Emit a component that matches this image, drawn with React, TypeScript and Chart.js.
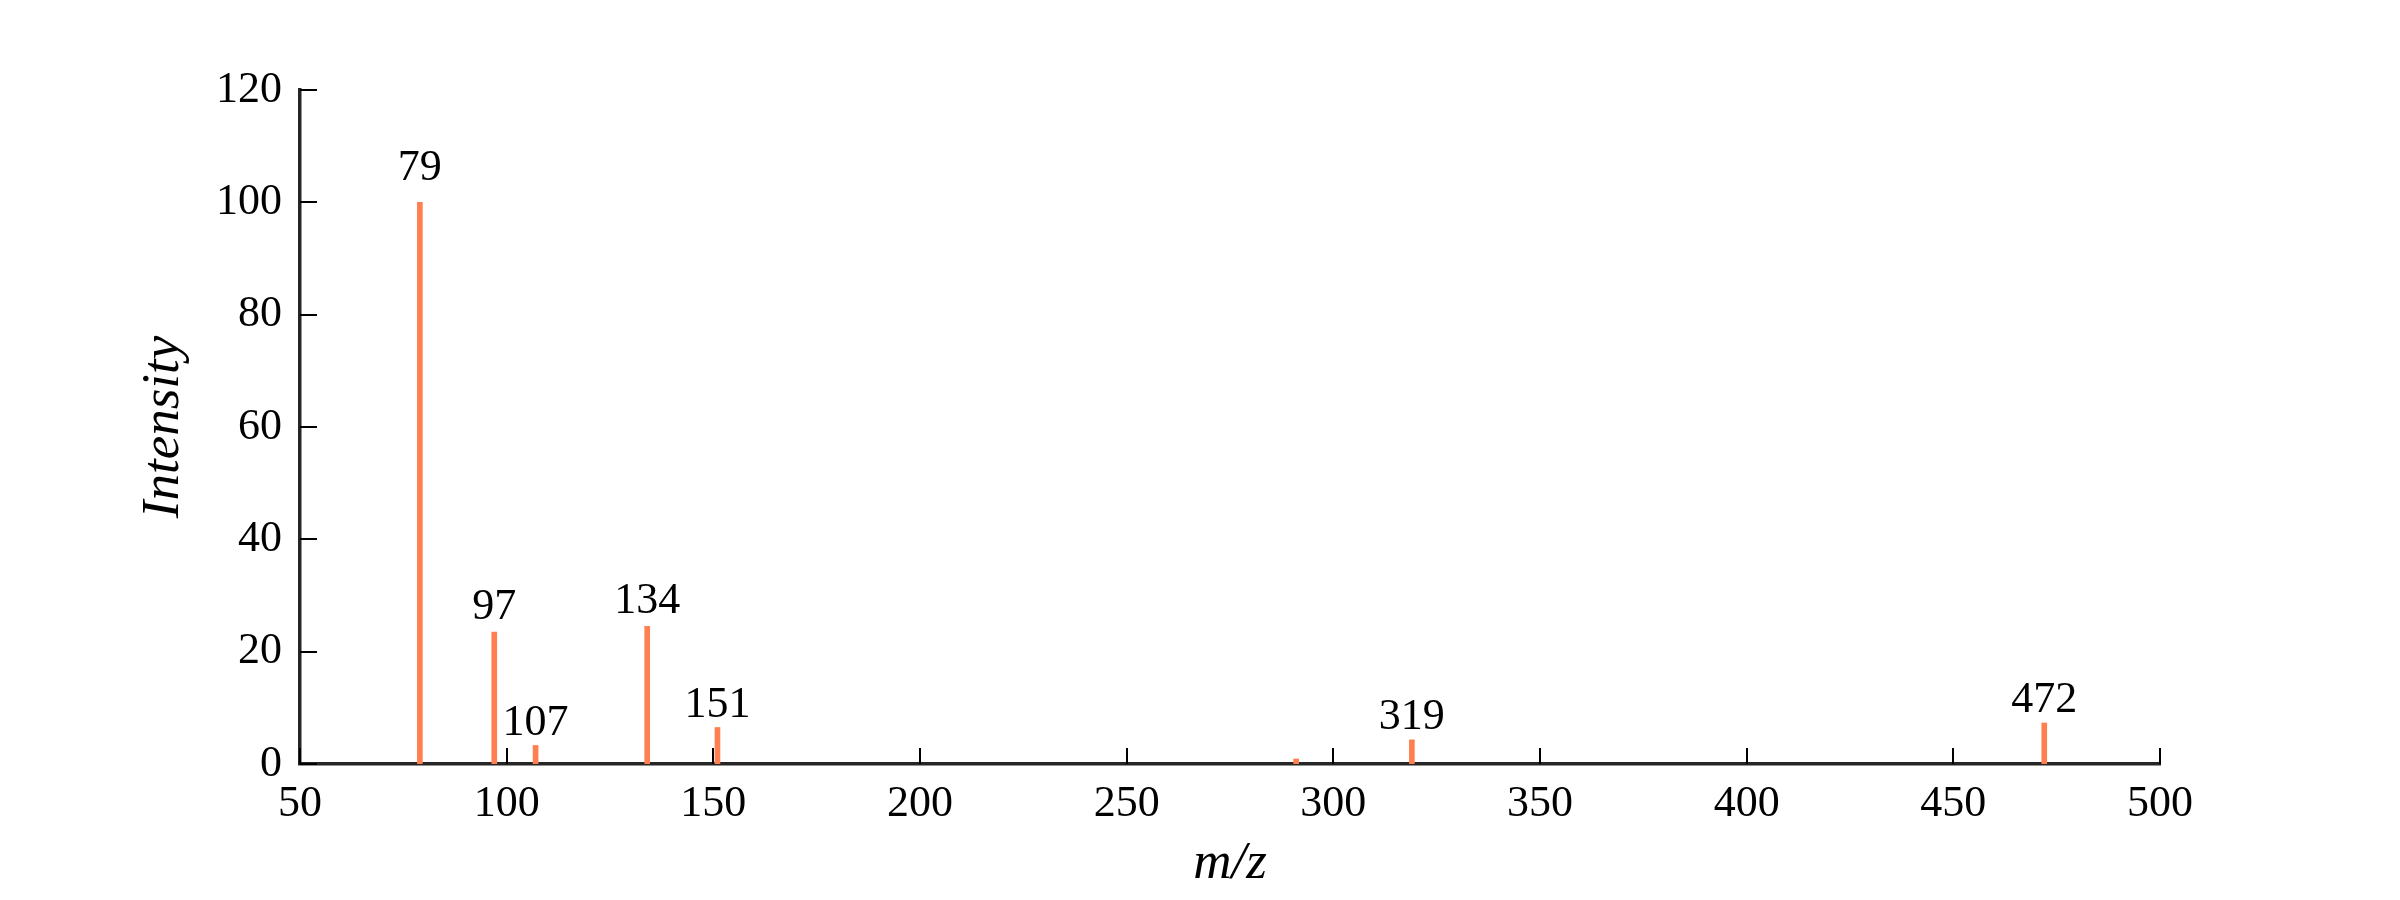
import React, { useEffect, useRef } from "react";
import { Chart, registerables } from "chart.js";

Chart.register(...registerables);

// m/z positions of the peaks and their relative intensities
const mzValues = [79, 97, 107, 134, 151, 291, 319, 472];
const intensities = [100, 23.5, 3.3, 24.5, 6.5, 0.9, 4.3, 7.3];
// peaks that carry a text label
const labeledPeaks = [79, 97, 107, 134, 151, 319, 472];

const xMin = 50;
const xMax = 500;
const xStep = 50;
const yMin = 0;
const yMax = 120;
const yStep = 20;

const xTitle = "m/z";
const yTitle = "Intensity";

const SERIF = '"Liberation Serif", "Times New Roman", serif';
const BAR_COLOR = "rgb(255,127,80)";

const inwardTicksAndLabels = {
  id: "inwardTicksAndLabels",
  afterDraw(chart: any) {
    const { ctx, chartArea, scales } = chart;
    const x = scales.x;
    const y = scales.y;
    ctx.save();
    ctx.strokeStyle = "#000";
    ctx.lineWidth = 2;
    x.ticks.forEach((t: any) => {
      const px = Math.round(x.getPixelForValue(t.value));
      ctx.beginPath();
      ctx.moveTo(px, chartArea.bottom);
      ctx.lineTo(px, chartArea.bottom - 16);
      ctx.stroke();
    });
    y.ticks.forEach((t: any) => {
      const py = Math.round(y.getPixelForValue(t.value));
      ctx.beginPath();
      ctx.moveTo(chartArea.left, py);
      ctx.lineTo(chartArea.left + 17, py);
      ctx.stroke();
    });
    ctx.fillStyle = "#000";
    ctx.font = `44px ${SERIF}`;
    ctx.textAlign = "center";
    ctx.textBaseline = "alphabetic";
    labeledPeaks.forEach((mz) => {
      const i = mzValues.indexOf(mz);
      if (i < 0) return;
      const v = intensities[i];
      const px = x.getPixelForValue(mz);
      const py = y.getPixelForValue(v);
      ctx.fillText(String(mz), px, py - (10 + 0.12 * v));
    });
    ctx.restore();
  },
};

export default function App() {
  const canvasRef = useRef<HTMLCanvasElement | null>(null);

  useEffect(() => {
    document.body.style.margin = "0";
    const canvas = canvasRef.current;
    if (!canvas) return;
    const chart = new Chart(canvas, {
      type: "bar",
      data: {
        datasets: [
          {
            data: mzValues.map((m, i) => ({ x: m, y: intensities[i] })),
            backgroundColor: BAR_COLOR,
            borderWidth: 0,
            barThickness: 5,
          },
        ],
      },
      options: {
        animation: false,
        responsive: false,
        devicePixelRatio: 1,
        layout: { padding: { top: 90, right: 240, left: 0, bottom: 0 } },
        plugins: {
          legend: { display: false },
          tooltip: { enabled: false },
        },
        scales: {
          x: {
            type: "linear",
            min: xMin,
            max: xMax,
            offset: false,
            z: 1,
            afterFit: (s: any) => {
              s.height = 136;
            },
            grid: { display: false, drawTicks: false, offset: false },
            border: { display: true, color: "#262626", width: 3.5 },
            ticks: {
              stepSize: xStep,
              padding: 14,
              color: "#000",
              font: { family: SERIF, size: 44 },
              maxRotation: 0,
              autoSkip: false,
            },
            title: {
              display: true,
              text: xTitle,
              color: "#000",
              font: { family: SERIF, size: 53, style: "italic" },
              padding: { top: 0, bottom: 4 },
            },
          },
          y: {
            type: "linear",
            min: yMin,
            max: yMax,
            afterFit: (s: any) => {
              s.width = 300;
            },
            grid: { display: false, drawTicks: false },
            border: { display: true, color: "#262626", width: 3.5 },
            ticks: {
              stepSize: yStep,
              padding: 18,
              color: "#000",
              font: { family: SERIF, size: 44 },
            },
            title: {
              display: true,
              text: yTitle,
              color: "#000",
              font: { family: SERIF, size: 53, style: "italic" },
              padding: { top: 132, bottom: 0 },
            },
          },
        },
      },
      plugins: [inwardTicksAndLabels],
    } as any);
    return () => chart.destroy();
  }, []);

  return (
    <div style={{ width: 2400, height: 900, background: "#fff" }}>
      <canvas ref={canvasRef} width={2400} height={900} style={{ display: "block" }} />
    </div>
  );
}
